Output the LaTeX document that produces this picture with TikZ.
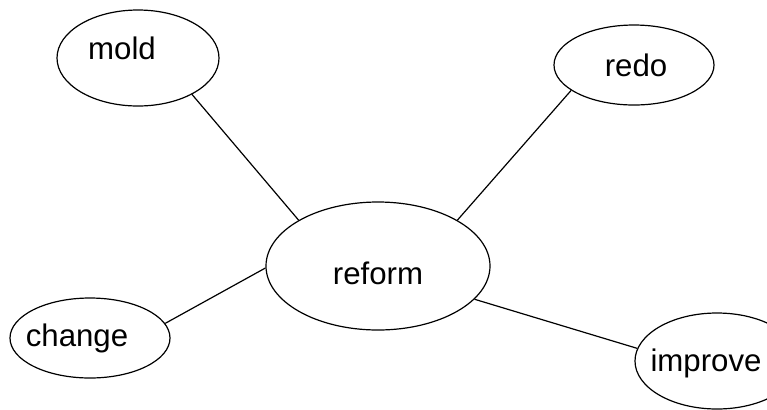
\documentclass[tikz,border=0pt]{standalone}
\usepackage{fontspec}
\setmainfont{Liberation Sans}
\usetikzlibrary{shapes.geometric}
\tikzset{
  bubble/.style={draw,ellipse,line width=0.6pt,inner sep=0pt},
  link/.style={line width=0.6pt}
}
\begin{document}
\begin{tikzpicture}[x=0.5pt,y=-0.5pt,font=\fontsize{15.6}{18}\selectfont]
        \useasboundingbox (0,0) rectangle (767,409);
        \node[bubble,minimum width=81pt,minimum height=48pt,label={[xshift=-8pt,yshift=5pt]center:mold}] (mold) at (138,58) {};
        \node[bubble,minimum width=80pt,minimum height=40pt,label={[xshift=1pt]center:redo}] (redo) at (634,65) {};
        \node[bubble,minimum width=112pt,minimum height=64pt,label={[yshift=-3.5pt]center:reform}] (reform) at (378,266) {};
        \node[bubble,minimum width=80pt,minimum height=40pt,label={[xshift=-6.5pt]center:change}] (change) at (90,338) {};
        \node[bubble,minimum width=82pt,minimum height=48pt,label={[xshift=-5.5pt,yshift=-1pt]center:improve}] (improve) at (717,361) {};
        \draw[link] (mold.-34) -- (reform.150);
        \draw[link] (redo.-158) -- (reform.30);
        \draw[link] (change.11) -- (reform.181);
        \draw[link] (reform.-19) -- (improve.171);
    \end{tikzpicture}
\end{document}
